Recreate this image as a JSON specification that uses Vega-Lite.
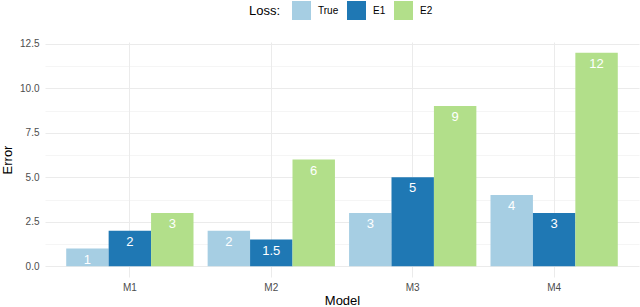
{
  "$schema": "https://vega.github.io/schema/vega-lite/v6.json",
  "width": 594,
  "height": 235,
  "autosize": "none",
  "padding": {"left": 45, "top": 42, "right": 1, "bottom": 30},
  "background": "white",
  "config": {
    "font": "Liberation Sans",
    "view": {"stroke": null},
    "axis": {"labelFont": "Liberation Sans", "titleFont": "Liberation Sans", "titleFontWeight": "normal", "labelColor": "#4D4D4D", "titleColor": "#000000"}
  },
  "data": {
    "values": [
      {"Model": "M1", "Loss": "True", "Error": 1},
      {"Model": "M1", "Loss": "E1", "Error": 2},
      {"Model": "M1", "Loss": "E2", "Error": 3},
      {"Model": "M2", "Loss": "True", "Error": 2},
      {"Model": "M2", "Loss": "E1", "Error": 1.5},
      {"Model": "M2", "Loss": "E2", "Error": 6},
      {"Model": "M3", "Loss": "True", "Error": 3},
      {"Model": "M3", "Loss": "E1", "Error": 5},
      {"Model": "M3", "Loss": "E2", "Error": 9},
      {"Model": "M4", "Loss": "True", "Error": 4},
      {"Model": "M4", "Loss": "E1", "Error": 3},
      {"Model": "M4", "Loss": "E2", "Error": 12}
    ]
  },
  "encoding": {
    "x": {
      "field": "Model", "type": "nominal", "title": "Model",
      "scale": {"paddingInner": 0.1, "paddingOuter": 0.15},
      "axis": {"labelAngle": 0, "bandPosition": 0.5, "grid": true, "gridColor": "#EBEBEB", "gridWidth": 1, "ticks": false, "domain": false, "labelPadding": 5, "labelFontSize": 10, "titleFontSize": 13, "titlePadding": 2}
    },
    "xOffset": {"field": "Loss", "type": "nominal", "sort": ["True", "E1", "E2"], "scale": {"paddingInner": 0, "paddingOuter": 0}},
    "y": {
      "field": "Error", "type": "quantitative", "title": "Error",
      "scale": {"domain": [-0.6, 12.6], "nice": false, "zero": false},
      "axis": {
        "values": [0, 1.25, 2.5, 3.75, 5, 6.25, 7.5, 8.75, 10, 11.25, 12.5],
        "labelExpr": "datum.value % 2.5 === 0 ? format(datum.value, '.1f') : ''",
        "grid": true, "gridColor": "#EBEBEB",
        "gridWidth": {"condition": {"test": "datum.value % 2.5 !== 0", "value": 0.5}, "value": 1},
        "ticks": false, "domain": false, "labelPadding": 6, "labelFontSize": 10, "titleFontSize": 13, "titlePadding": 5
      }
    }
  },
  "layer": [
    {
      "mark": {"type": "bar"},
      "encoding": {
        "color": {
          "field": "Loss", "type": "nominal", "sort": ["True", "E1", "E2"], "title": "Loss:",
          "scale": {"domain": ["True", "E1", "E2"], "range": ["#A6CEE3", "#1F78B4", "#B2DF8A"]},
          "legend": {
            "orient": "none", "legendX": 204, "legendY": -41, "direction": "horizontal",
            "titleOrient": "left", "titleFontSize": 13, "titleFont": "Liberation Sans", "titleFontWeight": "normal", "titleColor": "#000000",
            "titleBaseline": "middle", "titlePadding": 11,
            "symbolType": "square", "symbolSize": 361, "symbolStrokeWidth": 0, "symbolOpacity": 1,
            "labelFontSize": 10, "labelFont": "Liberation Sans", "labelColor": "#000000", "labelOffset": 7, "columnPadding": 8
          }
        }
      }
    },
    {
      "mark": {"type": "text", "color": "white", "fontSize": 13, "baseline": "top", "dy": 5, "font": "Liberation Sans"},
      "encoding": {"text": {"field": "Error", "type": "quantitative"}}
    }
  ]
}
